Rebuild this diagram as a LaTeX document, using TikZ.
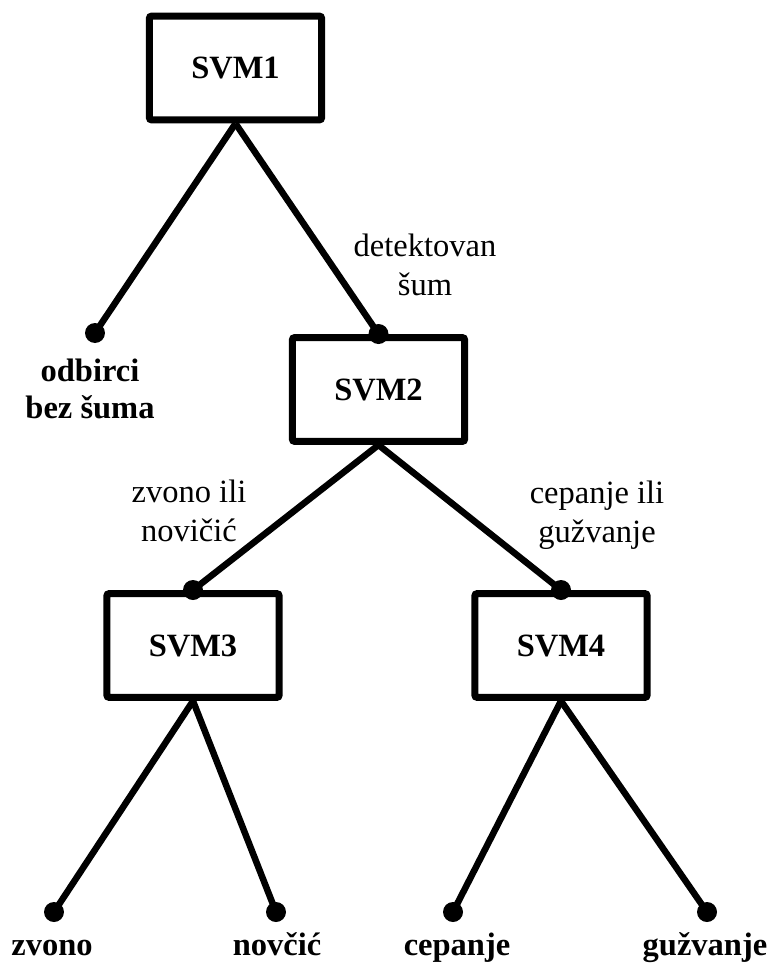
\documentclass[tikz,border=0pt]{standalone}
\usepackage{fontspec}
\setmainfont{Liberation Serif}
\usetikzlibrary{positioning}

\begin{document}
\begin{tikzpicture}[
      x=0.02cm, y=-0.02cm,
      box/.style={draw, rectangle, rounded corners=1.5pt, line width=0.14cm,
                  minimum width=3.45cm, minimum height=2.08cm,
                  font=\fontsize{18.5}{21}\selectfont\bfseries},
      link/.style={line width=0.13cm},
      dot/.style={circle, fill, inner sep=0pt, minimum size=0.4cm},
      leaf/.style={align=center, inner sep=0pt,
                   font=\fontsize{18.5}{21}\selectfont\bfseries},
      cond/.style={align=center, inner sep=0pt,
                   font=\fontsize{18.5}{22}\selectfont}
    ]
      \useasboundingbox (0,0) rectangle (770,963);
      \node[box] (svm1) at (235.5,68)    {SVM1};
      \node[box] (svm2) at (378.5,389.5) {SVM2};
      \node[box] (svm3) at (193,645.5)   {SVM3};
      \node[box] (svm4) at (561,645.5)   {SVM4};
      % leaf ends
      \node[dot] (d0) at (95,333)  {};
      \node[dot] (d1) at (54,912)  {};
      \node[dot] (d2) at (276,912) {};
      \node[dot] (d3) at (453,912) {};
      \node[dot] (d4) at (707,912) {};
      % dots on top of the boxes
      \node[dot] (t2) at (svm2.north) {};
      \node[dot] (t3) at (svm3.north) {};
      \node[dot] (t4) at (svm4.north) {};
      \draw[link] (svm1.south) -- (d0.center);
      \draw[link] (svm1.south) -- (t2.center);
      \draw[link] (svm2.south) -- (t3.center);
      \draw[link] (svm2.south) -- (t4.center);
      \draw[link] (svm3.south) -- (d1.center);
      \draw[link] (svm3.south) -- (d2.center);
      \draw[link] (svm4.south) -- (d3.center);
      \draw[link] (svm4.south) -- (d4.center);
      % branch labels
      \node[cond] (c2) at (425,265) {detektovan\\šum};
      \node[cond] (c3) at (189,511) {zvono ili\\novičić};
      \node[cond] (c4) at (597,515) {cepanje ili\\gužvanje};
      % classes
      \node[leaf] (n0) at (90,389) {odbirci\\bez šuma};
      \node[leaf, anchor=base] (n1) at (52,955)  {zvono};
      \node[leaf, anchor=base] (n2) at (277,955) {novčić};
      \node[leaf, anchor=base] (n3) at (457,955) {cepanje};
      \node[leaf, anchor=base] (n4) at (705,955) {gužvanje};
    \end{tikzpicture}
\end{document}
